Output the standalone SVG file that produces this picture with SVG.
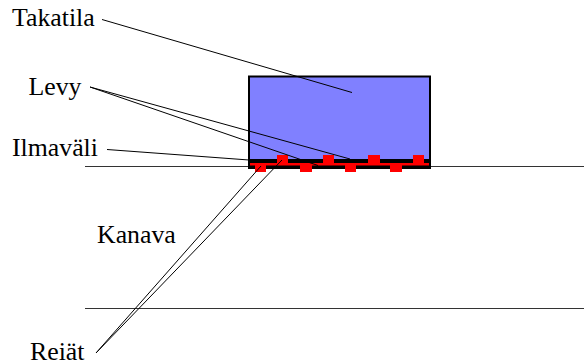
<svg xmlns="http://www.w3.org/2000/svg" width="584" height="361" viewBox="0 0 584 361">
<style>
text{font-family:"Liberation Serif","Times New Roman",serif;font-size:25.800px;fill:#000}
.l{stroke:#000;stroke-width:1;fill:none}
.h{stroke:#333;stroke-width:1;fill:none}
.r{fill:#f00}
</style>
<rect width="584" height="361" fill="#fff"/>
<g id="channel"><path class="h" d="M85 166.5H584M85 308.5H584"/></g>
<g id="takatila-box"><rect x="249" y="76.500" width="181" height="91" fill="#8080ff" stroke="#000" stroke-width="2"/></g>
<g id="levy">
<rect x="248" y="159" width="183" height="10" fill="#000"/>
<rect x="250" y="163" width="179" height="2.500" class="r"/>
<path class="r" d="M277 155h11v9h-11zM323 155h11v9h-11zM368 155h12v9h-12zM413 155h11v9h-11zM255 164h11v8h-11zM300 164h12v8h-12zM345 164h11v8h-11zM390 164h12v8h-12z"/>
</g>
<g id="connectors">
<path class="l" d="M102 19.500L352 92.500M90 87L350 159M90 87L318 165.500M107 149.500L249 160M96 353L261 166M96 353L282 160"/>
</g>
<g id="label-takatila"><text x="12" y="26">Takatila</text></g>
<g id="label-levy"><text x="28.500" y="94.500">Levy</text></g>
<g id="label-ilmavali"><text x="12" y="156">Ilmaväli</text></g>
<g id="label-kanava"><text x="97" y="243">Kanava</text></g>
<g id="label-reiat"><text x="30" y="360">Reiät</text></g>
</svg>
